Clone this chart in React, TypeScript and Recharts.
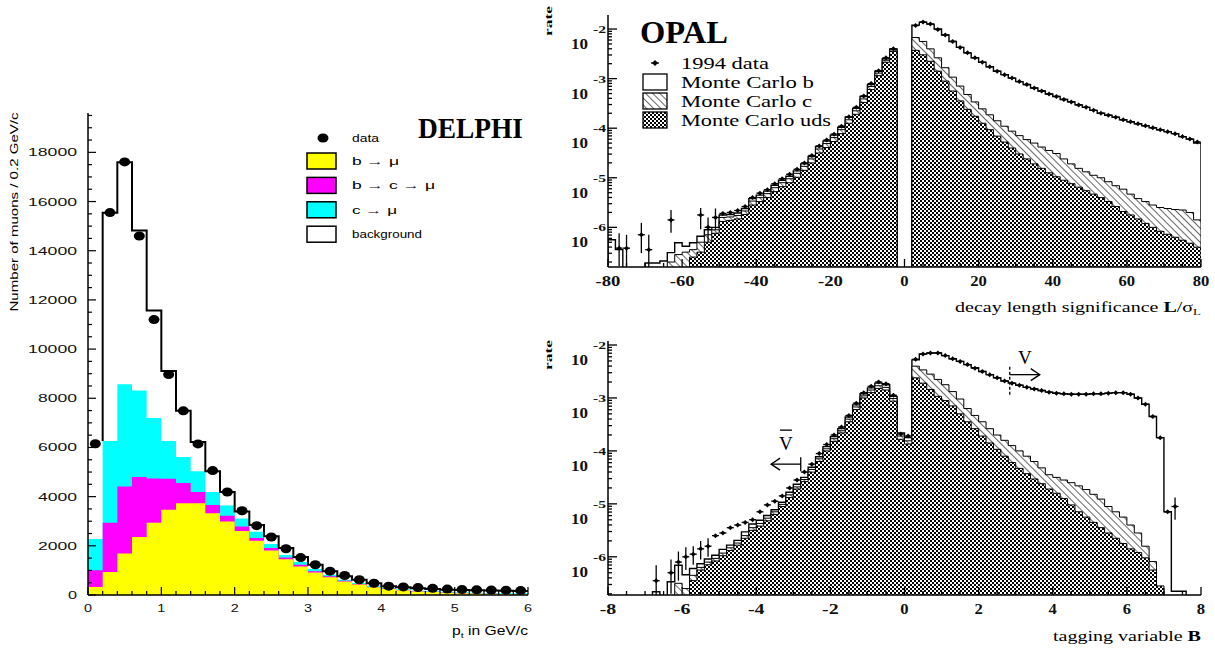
import React from "react";
import {
  Area,
  ComposedChart,
  ErrorBar,
  Line,
  ReferenceLine,
  Scatter,
  XAxis,
  YAxis,
} from "recharts";

const SERIF = '"Liberation Serif", "DejaVu Serif", serif';
const SANS = '"Liberation Sans", "DejaVu Sans", sans-serif';

/* ---------------- DELPHI: muon p_t spectrum, 0.2 GeV/c bins ---------------- */
const ptBinLow = [
  0, 0.2, 0.4, 0.6, 0.8, 1, 1.2, 1.4, 1.6, 1.8, 2, 2.2, 2.4, 2.6, 2.8, 3, 3.2, 3.4,
  3.6, 3.8, 4, 4.2, 4.4, 4.6, 4.8, 5, 5.2, 5.4, 5.6, 5.8,
];
const ptLabels = [0, 1, 2, 3, 4, 5, 6];
// cumulative tops of the MC stack, read bin by bin
const bMuTop = [
  330, 940, 1690, 2360, 2935, 3470, 3730, 3730, 3325, 2990, 2600, 2210, 1810, 1450, 1160,
  910, 720, 550, 430, 320, 245, 190, 145, 120, 95, 75, 60, 50, 40, 30,
];
const bcMuTop = [
  1010, 2935, 4410, 4800, 4740, 4730, 4555, 4190, 3660, 3225, 2790, 2315, 1910, 1520, 1230,
  970, 765, 580, 450, 330, 260, 200, 155, 128, 100, 80, 65, 55, 45, 35,
];
const cMuTop = [
  2280, 6260, 8575, 8315, 7200, 6260, 5610, 5030, 4190, 3640, 3110, 2575, 2070, 1630, 1345,
  1055, 825, 620, 490, 375, 290, 230, 175, 150, 130, 110, 95, 85, 75, 70,
];
// full MC (with background); first bin has no outline
const mcTotal = [
  null, 15545, 17600, 14820, 11570, 9110, 7490, 6220, 5030, 4190, 3400, 2850, 2385, 1910,
  1550, 1230, 970, 765, 620, 480, 360, 320, 275, 245, 215, 200, 190, 180, 170, 165,
];
const muData = [
  6150, 15550, 17610, 14600, 11200, 8965, 7490, 6145, 5060, 4190, 3425, 2820, 2360, 1880,
  1520, 1230, 970, 795, 620, 480, 360, 330, 300, 270, 240, 220, 210, 200, 190, 180,
];

/* ---------------- OPAL: decay length significance (log10 of rate) ---------------- */
const decayNegLow = Array.from({ length: 39 }, (_, i) => -80 + 2 * i);
const decayPosLow = Array.from({ length: 39 }, (_, i) => 2 + 2 * i);
const decayLabels = [-80, -60, -40, -20, 0, 20, 40, 60, 80];

const decayTotNeg = [
  -6.25, -6.45, -7, -7, -7, -6.72, -6.72, -6.68, -6.51, -6.31, -6.38, -6.31, -6.18, -6.05,
  -6.0, -5.75, -5.74, -5.71, -5.62, -5.42, -5.35, -5.27, -5.15, -5.05, -4.97, -4.86, -4.72,
  -4.57, -4.37, -4.26, -4.14, -3.98, -3.78, -3.6, -3.36, -3.12, -2.85, -2.6, -2.4,
];
const decayCNeg = [
  -7, -7, -7, -7, -7, -7, -7, -7, -6.7, -6.55, -6.5, -6.45, -6.3, -6.15, -6.05, -5.8, -5.79,
  -5.76, -5.67, -5.47, -5.4, -5.32, -5.2, -5.1, -5.02, -4.91, -4.77, -4.62, -4.42, -4.31,
  -4.19, -4.03, -3.83, -3.65, -3.41, -3.16, -2.89, -2.63, -2.42,
];
const decayUdsNeg = [
  -7, -7, -7, -7, -7, -7, -7, -7, -7, -7, -7, -6.6, -6.5, -6.3, -6.12, -5.88, -5.86, -5.83,
  -5.74, -5.55, -5.48, -5.4, -5.28, -5.18, -5.1, -4.99, -4.85, -4.7, -4.5, -4.39, -4.27,
  -4.11, -3.9, -3.72, -3.48, -3.22, -2.94, -2.67, -2.45,
];
const decayTotPos = [
  -1.92, -1.86, -1.9, -2.0, -2.12, -2.25, -2.37, -2.48, -2.58, -2.67, -2.76, -2.85, -2.92,
  -2.99, -3.06, -3.12, -3.19, -3.25, -3.31, -3.36, -3.42, -3.47, -3.53, -3.58, -3.64, -3.7,
  -3.74, -3.78, -3.83, -3.87, -3.91, -3.95, -3.99, -4.03, -4.07, -4.11, -4.17, -4.22, -4.3,
];
const decayCPos = [
  -2.17, -2.25, -2.4, -2.58, -2.78, -2.97, -3.15, -3.32, -3.47, -3.61, -3.73, -3.85, -3.96,
  -4.06, -4.15, -4.23, -4.3, -4.38, -4.45, -4.51, -4.62, -4.72, -4.81, -4.88, -4.95, -5.0,
  -5.08, -5.16, -5.23, -5.33, -5.42, -5.48, -5.55, -5.6, -5.62, -5.64, -5.65, -5.7, -5.85,
];
const decayUdsPos = [
  -2.43, -2.52, -2.65, -2.85, -3.05, -3.25, -3.45, -3.62, -3.76, -3.9, -4.03, -4.16, -4.28,
  -4.4, -4.52, -4.62, -4.72, -4.81, -4.9, -4.98, -5.05, -5.12, -5.19, -5.26, -5.33, -5.4,
  -5.48, -5.58, -5.68, -5.75, -5.83, -5.92, -6.0, -6.08, -6.14, -6.2, -6.26, -6.32, -6.4,
];
const decayDataNeg = [
  null, null, null, null, null, null, null, null, null, null, null, null, null, null, null,
  -5.72, -5.7, -5.66, -5.58, -5.4, -5.31, -5.24, -5.12, -5.02, -4.93, -4.83, -4.7, -4.55,
  -4.36, -4.24, -4.12, -3.96, -3.77, -3.58, -3.35, -3.1, -2.84, -2.58, -2.4,
];
const decayDataPos = [
  -1.93, -1.86, -1.9, -2.01, -2.12, -2.25, -2.37, -2.48, -2.58, -2.67, -2.76, -2.85, -2.92,
  -2.99, -3.06, -3.12, -3.19, -3.25, -3.31, -3.36, -3.42, -3.47, -3.53, -3.58, -3.64, -3.7,
  -3.74, -3.78, -3.83, -3.87, -3.91, -3.95, -3.99, -4.03, -4.07, -4.11, -4.17, -4.22, -4.28,
];
// low-statistics data points with visible error bars
const decayErrX = [-77, -75, -71, -69, -63, -55, -53, -51];
const decayErrY = [-6.42, -6.42, -6.15, -6.45, -5.85, -5.75, -6.0, -5.8];
const decayErrLo = [-6.78, -6.78, -6.52, -6.8, -6.11, -6.04, -6.3, -6.05];
const decayErrHi = [-6.12, -6.15, -5.91, -6.15, -5.65, -5.61, -5.8, -5.62];

/* ---------------- OPAL: tagging variable B, 0.2 bins from -6.8 ---------------- */
const tagBinLow = Array.from({ length: 72 }, (_, i) => Math.round((-6.8 + 0.2 * i) * 10) / 10);
const tagLabels = [-8, -6, -4, -2, 0, 2, 4, 6, 8];

const tagTot = [
  -6.66, -7, -6.47, -6.16, -6.34, -6.22, -6.13, -6.04, -5.97, -5.86, -5.78, -5.69, -5.53,
  -5.38, -5.31, -5.22, -5.11, -4.97, -4.78, -4.63, -4.5, -4.31, -4.11, -3.92, -3.73, -3.58,
  -3.36, -3.13, -2.92, -2.81, -2.72, -2.75, -2.97, -3.66, -3.75,
  -2.28, -2.17, -2.15, -2.15, -2.2, -2.26, -2.31, -2.37, -2.43, -2.5, -2.56, -2.62, -2.68,
  -2.72, -2.76, -2.8, -2.83, -2.86, -2.89, -2.91, -2.92, -2.93, -2.93, -2.93, -2.92, -2.92,
  -2.91, -2.9, -2.9, -2.93, -3.0, -3.12, -3.35, -3.75, -5.15, -6.65, -6.65,
];
const tagC = [
  -7, -7, -7, -6.5, -6.6, -6.35, -6.2, -6.1, -6.03, -5.93, -5.83, -5.74, -5.6, -5.45, -5.37,
  -5.27, -5.15, -5.01, -4.83, -4.68, -4.54, -4.35, -4.15, -3.96, -3.77, -3.62, -3.4, -3.17,
  -2.96, -2.85, -2.77, -2.8, -3.01, -3.72, -3.81,
  -2.4, -2.47, -2.55, -2.65, -2.75, -2.88, -3.02, -3.2, -3.33, -3.45, -3.58, -3.7, -3.8, -3.9,
  -4.0, -4.1, -4.2, -4.32, -4.45, -4.5, -4.55, -4.6, -4.66, -4.73, -4.82, -4.91, -5.05, -5.15,
  -5.25, -5.4, -5.55, -5.8, -6.09, -6.59, -6.9, -7, -7,
];
const tagUds = [
  -7, -7, -7, -7, -7, -6.45, -6.25, -6.15, -6.08, -5.98, -5.88, -5.78, -5.65, -5.5, -5.42,
  -5.32, -5.2, -5.05, -4.88, -4.72, -4.58, -4.4, -4.2, -4.0, -3.82, -3.66, -3.45, -3.22, -3.0,
  -2.9, -2.82, -2.85, -3.06, -3.78, -3.87,
  -2.62, -2.72, -2.84, -2.97, -3.05, -3.15, -3.3, -3.45, -3.58, -3.72, -3.85, -3.97, -4.1,
  -4.22, -4.33, -4.43, -4.53, -4.62, -4.72, -4.8, -4.9, -5.02, -5.15, -5.25, -5.35, -5.45,
  -5.55, -5.65, -5.75, -5.85, -5.92, -6.02, -6.25, -6.55, -6.9, -7, -7,
];
const tagData = [
  null, null, null, null, null, null, null, null, -5.6, -5.55, -5.45, -5.4, -5.35, -5.3, -5.15,
  -5.02, -4.95, -4.85, -4.7, -4.55, -4.4, -4.25, -4.05, -3.88, -3.7, -3.55, -3.33, -3.1, -2.9,
  -2.78, -2.7, -2.73, -2.95, -3.68, -3.72,
  -2.27, -2.17, -2.15, -2.15, -2.2, -2.26, -2.31, -2.37, -2.44, -2.5, -2.56, -2.62, -2.68,
  -2.72, -2.76, -2.8, -2.83, -2.86, -2.89, -2.91, -2.92, -2.93, -2.93, -2.93, -2.92, -2.92,
  -2.91, -2.9, -2.9, -2.93, -3.0, -3.12, -3.35, -3.75, -5.15, null, null,
];
const tagErrX = [-6.7, -6.3, -6.1, -5.9, -5.7, -5.5, -5.3, 7.3];
const tagErrY = [-6.45, -6.3, -6.1, -6.0, -5.95, -5.85, -5.8, -5.05];
const tagErrLo = [-6.72, -6.7, -6.45, -6.25, -6.15, -6.05, -6.0, -5.3];
const tagErrHi = [-6.16, -6.05, -5.9, -5.82, -5.8, -5.7, -5.65, -4.88];

/* ---------------- axis ranges ---------------- */
const DECAY_Y: [number, number] = [1.585e-7, 1.92e-2];
const TAG_Y: [number, number] = [1.9e-7, 1.19e-2];
const logDecades = [-7, -6, -5, -4, -3, -2, -1];
const logMantissas = [1, 2, 3, 4, 5, 6, 7, 8, 9];

const lin = (v: number | null) => (v == null ? null : 10 ** v);
const isDecade = (v: number) => {
  const e = Math.log10(v);
  return Math.abs(e - Math.round(e)) < 1e-6;
};
const logTicks = (lo: number, hi: number) =>
  logDecades.flatMap((e) => logMantissas.map((m) => m * 10 ** e)).filter((v) => v >= lo && v <= hi);
const stepTicks = (from: number, to: number, step: number) =>
  Array.from({ length: Math.round((to - from) / step) + 1 }, (_, i) => Math.round((from + i * step) * 100) / 100);

/* ---------------- table builders ---------------- */
function histRows(low: number[], width: number, tot: number[], c: number[], uds: number[], floor: number) {
  const n = low.length;
  return [
    { x: low[0], tot: floor, cTop: floor, uds: floor },
    ...low.map((x, i) => ({ x, tot: lin(tot[i]), cTop: lin(c[i]), uds: lin(uds[i]) })),
    { x: low[n - 1] + width, tot: lin(tot[n - 1]), cTop: lin(c[n - 1]), uds: lin(uds[n - 1]) },
    { x: low[n - 1] + width, tot: floor, cTop: floor, uds: floor },
  ];
}

const decayRows = [
  ...histRows(decayNegLow, 2, decayTotNeg, decayCNeg, decayUdsNeg, DECAY_Y[0]),
  { x: 0, tot: null, cTop: null, uds: null },
  ...histRows(decayPosLow, 2, decayTotPos, decayCPos, decayUdsPos, DECAY_Y[0]),
];
const decayPoints = [
  ...decayNegLow.map((x, i) => ({ x: x + 1, y: lin(decayDataNeg[i]) })),
  ...decayPosLow.map((x, i) => ({ x: x + 1, y: lin(decayDataPos[i]) })),
].filter((p) => p.y != null);
const decayErrPoints = decayErrX.map((x, i) => {
  const y = 10 ** decayErrY[i];
  return { x, y, err: [y - 10 ** decayErrLo[i], 10 ** decayErrHi[i] - y] };
});

const tagRows = histRows(tagBinLow, 0.2, tagTot, tagC, tagUds, TAG_Y[0]);
const tagPoints = tagBinLow
  .map((x, i) => ({ x: Math.round((x + 0.1) * 10) / 10, y: lin(tagData[i]) }))
  .filter((p) => p.y != null);
const tagErrPoints = tagErrX.map((x, i) => {
  const y = 10 ** tagErrY[i];
  return { x, y, err: [y - 10 ** tagErrLo[i], 10 ** tagErrHi[i] - y] };
});

const delphiRows = [
  ...ptBinLow.map((x, i) => ({ x, yel: bMuTop[i], mag: bcMuTop[i], cyan: cMuTop[i] })),
  { x: 6, yel: bMuTop[29], mag: bcMuTop[29], cyan: cMuTop[29] },
];
const delphiOutline = [
  { x: 0.2, tot: cMuTop[1] },
  ...ptBinLow.slice(1).map((x, i) => ({ x, tot: mcTotal[i + 1] })),
  { x: 6, tot: mcTotal[29] },
];
const delphiPoints = ptBinLow.map((x, i) => ({ x: Math.round((x + 0.1) * 10) / 10, y: muData[i] }));

/* ---------------- tick renderers (ticks point into the frame) ---------------- */
function DelphiYTick(p: any) {
  const v = p.payload.value;
  const major = v % 2000 === 0;
  const s = String(v);
  return (
    <g>
      <line x1={p.x} x2={p.x + (major ? 8 : 4)} y1={p.y} y2={p.y} stroke="#000" strokeWidth={1.2} />
      {major && (
        <text x={p.x - 11} y={p.y + 4} textAnchor="end" fontFamily={SANS} fontSize={11} fill="#111"
          textLength={s.length * 10 - 1} lengthAdjust="spacingAndGlyphs">{s}</text>
      )}
    </g>
  );
}

function DelphiXTick(p: any) {
  const v = p.payload.value;
  const major = ptLabels.includes(v);
  return (
    <g>
      <line x1={p.x} x2={p.x} y1={p.y} y2={p.y - (major ? 8 : 4)} stroke="#000" strokeWidth={1.2} />
      {major && (
        <text x={p.x} y={p.y + 17} textAnchor="middle" fontFamily={SANS} fontSize={11} fill="#111"
          textLength={8} lengthAdjust="spacingAndGlyphs">{v}</text>
      )}
    </g>
  );
}

function makeXTick(labels: number[], top: boolean) {
  return (p: any) => {
    const v = p.payload.value;
    const major = labels.includes(v);
    const len = major ? 8 : 4;
    const s = String(v);
    return (
      <g>
        <line x1={p.x} x2={p.x} y1={p.y} y2={top ? p.y + len : p.y - len} stroke="#000" strokeWidth={1.3} />
        {major && !top && (
          <text x={p.x} y={p.y + 19} textAnchor="middle" fontFamily={SERIF} fontWeight="bold" fontSize={14}
            fill="#111" textLength={s.length * 8.3} lengthAdjust="spacingAndGlyphs">{s}</text>
        )}
      </g>
    );
  };
}

function makeLogTick(right: boolean) {
  return (p: any) => {
    const v = p.payload.value;
    const major = isDecade(v);
    const len = major ? 9 : 4;
    const dir = right ? -1 : 1;
    const e = Math.round(Math.log10(v));
    return (
      <g>
        <line x1={p.x} x2={p.x + dir * len} y1={p.y} y2={p.y} stroke="#000" strokeWidth={1.3} />
        {major && !right && (
          <g fontFamily={SERIF} fontWeight="bold" fill="#111">
            <text x={p.x - 20} y={p.y + 20} textAnchor="end" fontSize={15} textLength={17}
              lengthAdjust="spacingAndGlyphs">10</text>
            <text x={p.x - 2} y={p.y + 4} textAnchor="end" fontSize={10} textLength={13}
              lengthAdjust="spacingAndGlyphs">{String(e)}</text>
          </g>
        )}
      </g>
    );
  };
}

const frameLine = { stroke: "#000", strokeWidth: 1.5 };

const dataMark = (p: any) => (
  <g>
    <line x1={p.cx - 3.5} x2={p.cx + 3.5} y1={p.cy} y2={p.cy} stroke="#000" strokeWidth={1.3} />
    <path d={`M${p.cx},${p.cy - 2.5}L${p.cx + 2.5},${p.cy}L${p.cx},${p.cy + 2.5}L${p.cx - 2.5},${p.cy}Z`} fill="#000" />
  </g>
);

const blobMark = (p: any) => <ellipse cx={p.cx} cy={p.cy} rx={5.5} ry={4.5} fill="#000" />;

/* arrow annotations on the B panel */
function arrowMark(text: string, overline: boolean, barUp: number, barDown: number, dashed: boolean, textUp: number) {
  return (p: any) => {
    const { x1, y1, x2 } = p;
    const dir = x2 > x1 ? 1 : -1;
    const mid = (x1 + x2) / 2;
    return (
      <g stroke="#000" fill="none" strokeWidth={1.3}>
        <line x1={x1} x2={x2} y1={y1} y2={y1} />
        <polyline points={`${x2 - dir * 9},${y1 - 6} ${x2},${y1} ${x2 - dir * 9},${y1 + 6}`} />
        <line x1={x1} x2={x1} y1={y1 - barUp} y2={y1 + barDown} strokeDasharray={dashed ? "3 2" : undefined} />
        {overline && <line x1={mid - 6} x2={mid + 6} y1={y1 - textUp - 14} y2={y1 - textUp - 14} />}
        <text x={mid} y={y1 - textUp + 6} textAnchor="middle" fontFamily={SERIF} fontSize={19} fill="#000" stroke="none">
          {text}
        </text>
      </g>
    );
  };
}
const vBarArrow = { y: 10 ** -4.25, from: -2.8, to: -3.6 };
const vArrow = { y: 10 ** -2.56, from: 2.84, to: 3.65 };

/* ---------------- panels ---------------- */
function DelphiChart() {
  return (
    <ComposedChart width={540} height={652} data={delphiRows} margin={{ top: 113, right: 12, left: 0, bottom: 0 }}>
      <XAxis dataKey="x" type="number" domain={[0, 6]} allowDataOverflow ticks={stepTicks(0, 6, 0.2)}
        interval={0} tickSize={0} tickMargin={0} tickLine={false} tick={DelphiXTick} axisLine={frameLine} height={57} />
      <XAxis xAxisId="top" orientation="top" type="number" domain={[0, 6]} allowDataOverflow height={0}
        tick={false} tickLine={false} axisLine={frameLine} />
      <YAxis type="number" domain={[0, 19600]} allowDataOverflow ticks={stepTicks(0, 19500, 500)} interval={0}
        tickSize={0} tickMargin={0} tickLine={false} tick={DelphiYTick} axisLine={frameLine} width={88} />
      <YAxis yAxisId="right" orientation="right" type="number" domain={[0, 19600]} allowDataOverflow width={0}
        tick={false} tickLine={false} axisLine={frameLine} />
      <Area type="stepAfter" dataKey="cyan" fill="#00ffff" fillOpacity={1} stroke="none" isAnimationActive={false} dot={false} activeDot={false} />
      <Area type="stepAfter" dataKey="mag" fill="#ff00ff" fillOpacity={1} stroke="none" isAnimationActive={false} dot={false} activeDot={false} />
      <Area type="stepAfter" dataKey="yel" fill="#ffff00" fillOpacity={1} stroke="none" isAnimationActive={false} dot={false} activeDot={false} />
      <Line data={delphiOutline} type="stepAfter" dataKey="tot" stroke="#000" strokeWidth={2} dot={false}
        activeDot={false} isAnimationActive={false} />
      <Scatter data={delphiPoints} dataKey="y" shape={blobMark} isAnimationActive={false} />
    </ComposedChart>
  );
}

function OpalDecayChart() {
  const yTicks = logTicks(DECAY_Y[0], DECAY_Y[1]);
  const xTicks = stepTicks(-80, 80, 5);
  return (
    <ComposedChart width={675} height={330} data={decayRows} margin={{ top: 15, right: 14, left: 0, bottom: 0 }}>
      <XAxis dataKey="x" type="number" domain={[-80, 80]} allowDataOverflow ticks={xTicks} interval={0}
        tickSize={0} tickMargin={0} tickLine={false} tick={makeXTick(decayLabels, false)} axisLine={frameLine} height={63} />
      <XAxis xAxisId="top" orientation="top" type="number" domain={[-80, 80]} allowDataOverflow ticks={xTicks}
        interval={0} tickSize={0} tickMargin={0} tickLine={false} tick={makeXTick(decayLabels, true)} axisLine={frameLine} height={0} />
      <YAxis type="number" scale="log" domain={DECAY_Y} allowDataOverflow ticks={yTicks} interval={0} tickSize={0}
        tickMargin={0} tickLine={false} tick={makeLogTick(false)} axisLine={frameLine} width={68} />
      <YAxis yAxisId="right" orientation="right" type="number" scale="log" domain={DECAY_Y} allowDataOverflow
        ticks={yTicks} interval={0} tickSize={0} tickMargin={0} tickLine={false} tick={makeLogTick(true)}
        axisLine={frameLine} width={0} />
      <Area type="stepAfter" dataKey="tot" baseValue={DECAY_Y[0]} fill="#fff" fillOpacity={1} stroke="#000"
        strokeWidth={1.4} isAnimationActive={false} dot={false} activeDot={false} />
      <Area type="stepAfter" dataKey="cTop" baseValue={DECAY_Y[0]} fill="url(#opalHatch)" fillOpacity={1}
        stroke="#000" strokeWidth={1} isAnimationActive={false} dot={false} activeDot={false} />
      <Area type="stepAfter" dataKey="uds" baseValue={DECAY_Y[0]} fill="url(#opalChecker)" fillOpacity={1}
        stroke="#000" strokeWidth={1} isAnimationActive={false} dot={false} activeDot={false} />
      <Scatter data={decayPoints} dataKey="y" shape={dataMark} isAnimationActive={false} />
      <Scatter data={decayErrPoints} dataKey="y" shape={dataMark} isAnimationActive={false}>
        <ErrorBar dataKey="err" direction="y" width={0} stroke="#000" strokeWidth={1.3} isAnimationActive={false} />
      </Scatter>
    </ComposedChart>
  );
}

function OpalTagChart() {
  const yTicks = logTicks(TAG_Y[0], TAG_Y[1]);
  const xTicks = stepTicks(-8, 8, 0.5);
  return (
    <ComposedChart width={675} height={322} data={tagRows} margin={{ top: 11, right: 14, left: 0, bottom: 0 }}>
      <XAxis dataKey="x" type="number" domain={[-8, 8]} allowDataOverflow ticks={xTicks} interval={0}
        tickSize={0} tickMargin={0} tickLine={false} tick={makeXTick(tagLabels, false)} axisLine={frameLine} height={57} />
      <XAxis xAxisId="top" orientation="top" type="number" domain={[-8, 8]} allowDataOverflow ticks={xTicks}
        interval={0} tickSize={0} tickMargin={0} tickLine={false} tick={makeXTick(tagLabels, true)} axisLine={frameLine} height={0} />
      <YAxis type="number" scale="log" domain={TAG_Y} allowDataOverflow ticks={yTicks} interval={0} tickSize={0}
        tickMargin={0} tickLine={false} tick={makeLogTick(false)} axisLine={frameLine} width={68} />
      <YAxis yAxisId="right" orientation="right" type="number" scale="log" domain={TAG_Y} allowDataOverflow
        ticks={yTicks} interval={0} tickSize={0} tickMargin={0} tickLine={false} tick={makeLogTick(true)}
        axisLine={frameLine} width={0} />
      <Area type="stepAfter" dataKey="tot" baseValue={TAG_Y[0]} fill="#fff" fillOpacity={1} stroke="#000"
        strokeWidth={1.4} isAnimationActive={false} dot={false} activeDot={false} />
      <Area type="stepAfter" dataKey="cTop" baseValue={TAG_Y[0]} fill="url(#opalHatch)" fillOpacity={1}
        stroke="#000" strokeWidth={1} isAnimationActive={false} dot={false} activeDot={false} />
      <Area type="stepAfter" dataKey="uds" baseValue={TAG_Y[0]} fill="url(#opalChecker)" fillOpacity={1}
        stroke="#000" strokeWidth={1} isAnimationActive={false} dot={false} activeDot={false} />
      <Scatter data={tagPoints} dataKey="y" shape={dataMark} isAnimationActive={false} />
      <Scatter data={tagErrPoints} dataKey="y" shape={dataMark} isAnimationActive={false}>
        <ErrorBar dataKey="err" direction="y" width={0} stroke="#000" strokeWidth={1.3} isAnimationActive={false} />
      </Scatter>
      <ReferenceLine ifOverflow="visible"
        segment={[{ x: vBarArrow.from, y: vBarArrow.y }, { x: vBarArrow.to, y: vBarArrow.y }]}
        shape={arrowMark("V", true, 7, 7, false, 20)} />
      <ReferenceLine ifOverflow="visible"
        segment={[{ x: vArrow.from, y: vArrow.y }, { x: vArrow.to, y: vArrow.y }]}
        shape={arrowMark("V", false, 8, 22, true, 17)} />
    </ComposedChart>
  );
}

function PatternDefs() {
  return (
    <svg width={0} height={0} style={{ position: "absolute" }}>
      <defs>
        <pattern id="opalChecker" width={4} height={4} patternUnits="userSpaceOnUse">
          <rect width={4} height={4} fill="#fff" />
          <rect width={2} height={2} fill="#000" />
          <rect x={2} y={2} width={2} height={2} fill="#000" />
        </pattern>
        <pattern id="opalHatch" width={5} height={5} patternUnits="userSpaceOnUse" patternTransform="rotate(-45)">
          <rect width={5} height={5} fill="#fff" />
          <line x1={0} y1={0} x2={0} y2={5} stroke="#000" strokeWidth={1.2} />
        </pattern>
      </defs>
    </svg>
  );
}

const delphiLegend = [
  { label: "b \u2192 \u03bc", fill: "#ffff00", len: 47 },
  { label: "b \u2192 c \u2192 \u03bc", fill: "#ff00ff", len: 83 },
  { label: "c \u2192 \u03bc", fill: "#00ffff", len: 45 },
  { label: "background", fill: "#ffffff", len: 70 },
];
const opalLegend = [
  { label: "Monte Carlo b", fill: "#fff", len: 133 },
  { label: "Monte Carlo c", fill: "url(#opalHatch)", len: 131 },
  { label: "Monte Carlo uds", fill: "url(#opalChecker)", len: 150 },
];

function Overlay() {
  return (
    <svg width={1215} height={652} style={{ position: "absolute", left: 0, top: 0, pointerEvents: "none" }}>
      {/* DELPHI legend and titles */}
      <text x={418} y={138} fontFamily={SERIF} fontWeight="bold" fontSize={29} textLength={105}
        lengthAdjust="spacingAndGlyphs">DELPHI</text>
      <ellipse cx={323} cy={138} rx={5.5} ry={4.5} fill="#000" />
      <text x={352} y={142} fontFamily={SANS} fontSize={11} textLength={27} lengthAdjust="spacingAndGlyphs">data</text>
      {delphiLegend.map((d, i) => (
        <g key={d.label}>
          <rect x={307} y={153 + i * 24.4} width={29} height={16} fill={d.fill} stroke="#000" strokeWidth={1.5} />
          <text x={352} y={165 + i * 24.4} fontFamily={SANS} fontSize={11} textLength={d.len}
            lengthAdjust="spacingAndGlyphs">{d.label}</text>
        </g>
      ))}
      <text transform="translate(18,212) rotate(-90)" textAnchor="middle" fontFamily={SANS} fontSize={11}
        textLength={199} lengthAdjust="spacingAndGlyphs">Number of muons / 0.2 GeV/c</text>
      <text x={528} y={635} textAnchor="end" fontFamily={SANS} fontSize={12} textLength={76} lengthAdjust="spacingAndGlyphs">
        p<tspan fontSize={8} dy={3}>t</tspan><tspan dy={-3}> in GeV/c</tspan>
      </text>

      {/* OPAL legend and titles */}
      <text x={640} y={43} fontFamily={SERIF} fontWeight="bold" fontSize={31} textLength={88}
        lengthAdjust="spacingAndGlyphs">OPAL</text>
      <line x1={651} x2={659} y1={63} y2={63} stroke="#000" strokeWidth={1.3} />
      <path d="M655,60L658,63L655,66L652,63Z" fill="#000" />
      <text x={681} y={69} fontFamily={SERIF} fontSize={16} textLength={88} lengthAdjust="spacingAndGlyphs">1994 data</text>
      {opalLegend.map((d, i) => (
        <g key={d.label}>
          <rect x={643} y={74 + i * 19} width={24} height={16} fill={d.fill} stroke="#000" strokeWidth={1.3} />
          <text x={681} y={88 + i * 19} fontFamily={SERIF} fontSize={16} textLength={d.len}
            lengthAdjust="spacingAndGlyphs">{d.label}</text>
        </g>
      ))}
      <text transform="translate(552,21) rotate(-90)" textAnchor="middle" fontFamily={SERIF} fontWeight="bold"
        fontSize={11} textLength={30} lengthAdjust="spacingAndGlyphs">rate</text>
      <text transform="translate(552,355) rotate(-90)" textAnchor="middle" fontFamily={SERIF} fontWeight="bold"
        fontSize={11} textLength={30} lengthAdjust="spacingAndGlyphs">rate</text>
      <text x={1201} y={312} textAnchor="end" fontFamily={SERIF} fontSize={14} textLength={246} lengthAdjust="spacingAndGlyphs">
        decay length significance <tspan fontWeight="bold">L</tspan>/{"\u03c3"}<tspan fontSize={9} dy={3}>L</tspan>
      </text>
      <text x={1201} y={641} textAnchor="end" fontFamily={SERIF} fontSize={14} textLength={148} lengthAdjust="spacingAndGlyphs">
        tagging variable <tspan fontWeight="bold">B</tspan>
      </text>
    </svg>
  );
}

export default function App() {
  return (
    <div style={{ position: "absolute", left: 0, top: 0, width: 1215, height: 652, background: "#fff", overflow: "hidden" }}>
      <PatternDefs />
      <div style={{ position: "absolute", left: 0, top: 0 }}>
        <DelphiChart />
      </div>
      <div style={{ position: "absolute", left: 540, top: 0 }}>
        <OpalDecayChart />
      </div>
      <div style={{ position: "absolute", left: 540, top: 330 }}>
        <OpalTagChart />
      </div>
      <Overlay />
    </div>
  );
}
